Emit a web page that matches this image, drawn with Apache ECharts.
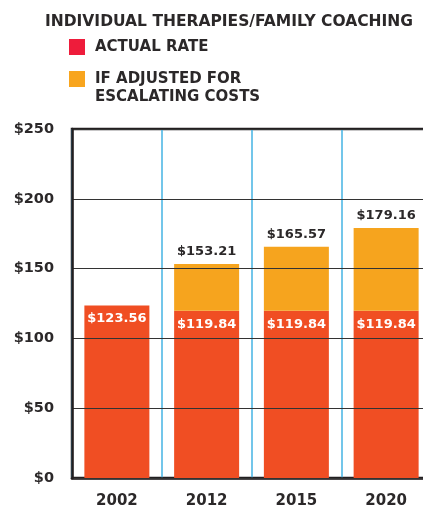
<!DOCTYPE html>
<html>
<head>
<meta charset="utf-8">
<script src="https://cdn.jsdelivr.net/npm/echarts@6/dist/echarts.min.js"></script>
<style>
  html, body { margin: 0; padding: 0; background: #fff; }
  #chart { width: 423px; height: 506px; }
</style>
</head>
<body>
<div id="chart"></div>
<script type="text/javascript">
// data
var years = ['2002', '2012', '2015', '2020'];
var actualRate = [123.56, 119.84, 119.84, 119.84];
var adjustedTotal = [null, 153.21, 165.57, 179.16];
var yTicks = [0, 50, 100, 150, 200, 250];

var FONT = 'DejaVu Sans';
var INK = '#2b2829';
var RED = '#f04e23';
var ORANGE = '#f6a41e';
var ACTUAL_NAME = 'ACTUAL RATE';
var ADJ_NAME = 'IF ADJUSTED FOR ESCALATING COSTS';

// orange segment = part above the actual rate
var adjustedPart = adjustedTotal.map(function (v, i) {
	return v == null ? null : +(v - actualRate[i]).toFixed(2);
});

var myChart = echarts.init(document.getElementById('chart'));
var option = {
	animation: false,
	title: {
		text: 'INDIVIDUAL THERAPIES/FAMILY COACHING',
		left: 40,
		top: 9,
		textStyle: { fontFamily: FONT, fontWeight: 'bold', fontSize: 15.5, color: INK }
	},
	legend: {
		orient: 'vertical',
		left: 64,
		top: 34,
		itemWidth: 16,
		itemHeight: 16,
		itemGap: 16,
		icon: 'rect',
		selectedMode: false,
		textStyle: { fontFamily: FONT, fontWeight: 'bold', fontSize: 15, color: INK, lineHeight: 16, padding: [0, 0, 0, 5] },
		// second entry wraps; its 2nd line is the graphic text below
		formatter: function (name) { return name === ADJ_NAME ? 'IF ADJUSTED FOR' : name; },
		data: [
			{ name: ACTUAL_NAME, itemStyle: { color: '#ee1c3b' } },
			{ name: ADJ_NAME, itemStyle: { color: '#f8a51e' } }
		]
	},
	graphic: [{
		type: 'text',
		x: 95,
		y: 97,
		style: { text: 'ESCALATING COSTS', font: 'bold 15px "DejaVu Sans"', fill: INK, verticalAlign: 'middle' }
	}],
	grid: {
		left: 72,
		right: -8,
		top: 129,
		bottom: 28,
		outerBoundsMode: 'none',
		containLabel: false,
		show: true,
		borderColor: '#231f20',
		borderWidth: 2.5
	},
	xAxis: {
		type: 'category',
		data: years,
		axisTick: { show: false },
		axisLine: { show: true, lineStyle: { color: '#231f20', width: 2.5 } },
		axisLabel: { margin: 16, fontFamily: FONT, fontWeight: 'bold', fontSize: 15, color: INK },
		splitLine: { show: true, interval: 0, lineStyle: { color: '#45b3e3', width: 1.5 } }
	},
	yAxis: {
		type: 'value',
		min: yTicks[0],
		max: yTicks[yTicks.length - 1],
		interval: 50,
		z: 3,
		axisLine: { show: true, lineStyle: { color: '#231f20', width: 2.5 } },
		axisTick: { show: false },
		axisLabel: { margin: 18, fontFamily: FONT, fontWeight: 'bold', fontSize: 14.5, color: INK,
			formatter: function (v) { return '$' + v; } },
		splitLine: { show: true, lineStyle: { color: '#333', width: 1 } }
	},
	series: [{
		name: ACTUAL_NAME,
		type: 'bar',
		stack: 'rate',
		barWidth: 65,
		itemStyle: { color: RED },
		label: {
			show: true,
			position: 'insideTop',
			distance: 7,
			fontFamily: FONT, fontWeight: 'bold', fontSize: 13, color: '#fff',
			formatter: function (p) { return '$' + p.value.toFixed(2); }
		},
		data: actualRate
	}, {
		name: ADJ_NAME,
		type: 'bar',
		stack: 'rate',
		barWidth: 65,
		itemStyle: { color: ORANGE },
		label: {
			show: true,
			position: 'top',
			distance: 6,
			fontFamily: FONT, fontWeight: 'bold', fontSize: 13, color: INK,
			formatter: function (p) { return '$' + adjustedTotal[p.dataIndex].toFixed(2); }
		},
		data: adjustedPart
	}]
};
myChart.setOption(option);
</script>
</body>
</html>
